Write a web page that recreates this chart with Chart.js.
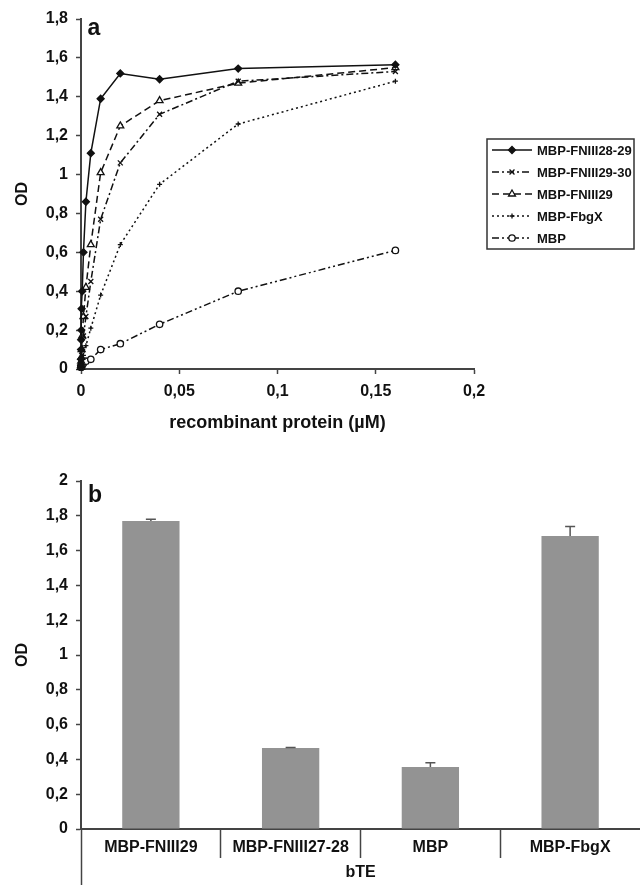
<!DOCTYPE html>
<html>
<head>
<meta charset="utf-8">
<script src="https://cdn.jsdelivr.net/npm/chart.js@4.4.1/dist/chart.umd.min.js"></script>
<style>
  body { margin: 0; background: #fff; }
  #wrap { position: relative; width: 640px; height: 885px; }
  canvas { position: absolute; left: 0; }
</style>
</head>
<body>
<div id="wrap">
  <canvas id="curve" width="640" height="440" style="top:0"></canvas>
  <canvas id="bars" width="640" height="445" style="top:440px"></canvas>
</div>
<script>
// panel a: two-fold dilution series (µM) and OD readings
const conc = [0.0000098, 0.0000195, 0.000039, 0.000078, 0.000156, 0.0003125, 0.000625, 0.00125, 0.0025, 0.005, 0.01, 0.02, 0.04, 0.08, 0.16];
const odFn2829 = [0.02, 0.05, 0.10, 0.15, 0.20, 0.31, 0.40, 0.60, 0.86, 1.11, 1.39, 1.52, 1.49, 1.545, 1.565];
const odFn2930 = [0.01, 0.01, 0.02, 0.03, 0.04, 0.07, 0.10, 0.17, 0.27, 0.45, 0.77, 1.06, 1.31, 1.48, 1.53];
const odFn29   = [0.01, 0.01, 0.02, 0.04, 0.06, 0.10, 0.17, 0.27, 0.42, 0.64, 1.01, 1.25, 1.38, 1.47, 1.55];
const odFbgX   = [0.01, 0.01, 0.01, 0.02, 0.02, 0.03, 0.05, 0.07, 0.12, 0.21, 0.38, 0.64, 0.95, 1.26, 1.48];
const odMbp    = [0.01, 0.01, 0.01, 0.01, 0.01, 0.02, 0.02, 0.03, 0.04, 0.05, 0.10, 0.13, 0.23, 0.40, 0.61];
const xTicksA = ['0', '0,05', '0,1', '0,15', '0,2'];
const yTicksA = ['0', '0,2', '0,4', '0,6', '0,8', '1', '1,2', '1,4', '1,6', '1,8'];

// panel b
const groups = ['MBP-FNIII29', 'MBP-FNIII27-28', 'MBP', 'MBP-FbgX'];
const groupTitle = ['bTE'];
const odMeans = [1.77, 0.466, 0.356, 1.684];
const odErrors = [0.01, 0.003, 0.025, 0.055];
const yTicksB = ['0', '0,2', '0,4', '0,6', '0,8', '1', '1,2', '1,4', '1,6', '1,8', '2'];

const FONT = "'Liberation Sans', Arial, sans-serif";
const ink = '#111';
const axisGrey = '#444';
const tickFont = { family: FONT, size: 16, weight: 'bold' };

const points = arr => conc.map((c, i) => ({ x: c, y: arr[i] }));
// no divider at the far right end of the category axis
const dividerColor = c => (c.type === 'tick' ? axisGrey : 'rgba(0,0,0,0)');

const panelLabel = {
  id: 'panelLabel',
  afterDraw(chart, args, opts) {
    const ctx = chart.ctx;
    ctx.save();
    ctx.fillStyle = ink;
    ctx.font = 'bold 23px ' + FONT;
    ctx.textAlign = 'center';
    ctx.textBaseline = 'alphabetic';
    ctx.fillText(opts.text, opts.x, opts.y);
    ctx.restore();
  }
};

// excel style legend: line sample with the marker in the middle
const curveLegend = {
  id: 'curveLegend',
  afterDraw(chart, args, opts) {
    const ctx = chart.ctx;
    ctx.save();
    ctx.strokeStyle = '#333';
    ctx.lineWidth = 1.5;
    ctx.strokeRect(opts.x, opts.y, opts.w, opts.h);
    chart.data.datasets.forEach((ds, i) => {
      const y = opts.y + 11 + i * opts.row;
      ctx.strokeStyle = ink;
      ctx.lineWidth = ds.borderWidth;
      ctx.setLineDash(ds.borderDash || []);
      ctx.beginPath();
      ctx.moveTo(opts.x + 5, y);
      ctx.lineTo(opts.x + 45, y);
      ctx.stroke();
      ctx.setLineDash([]);
      ctx.fillStyle = ds.pointBackgroundColor;
      ctx.lineWidth = ds.pointBorderWidth;
      Chart.helpers.drawPoint(ctx, {
        pointStyle: ds.pointStyle, radius: ds.pointRadius,
        borderWidth: ds.pointBorderWidth, rotation: 0
      }, opts.x + 25, y);
      ctx.fillStyle = ink;
      ctx.font = 'bold 13px ' + FONT;
      ctx.textAlign = 'left';
      ctx.textBaseline = 'middle';
      ctx.fillText(ds.label, opts.x + 50, y + 1);
    });
    ctx.restore();
  }
};

const errorBars = {
  id: 'errorBars',
  afterDatasetsDraw(chart, args, opts) {
    const ctx = chart.ctx;
    const yScale = chart.scales.y;
    const values = chart.data.datasets[0].data;
    ctx.save();
    ctx.strokeStyle = '#555';
    ctx.lineWidth = 1.5;
    chart.getDatasetMeta(0).data.forEach((bar, i) => {
      const yTop = yScale.getPixelForValue(values[i] + opts.errors[i]);
      ctx.beginPath();
      ctx.moveTo(bar.x, bar.y);
      ctx.lineTo(bar.x, yTop);
      ctx.moveTo(bar.x - 5, yTop);
      ctx.lineTo(bar.x + 5, yTop);
      ctx.stroke();
    });
    ctx.restore();
  }
};

function series(label, arr, dash, style, radius, fill) {
  return {
    label: label,
    data: points(arr),
    borderColor: ink,
    borderWidth: 1.5,
    borderDash: dash,
    pointStyle: style,
    pointRadius: radius,
    pointBorderColor: ink,
    pointBackgroundColor: fill,
    pointBorderWidth: 1.3,
    tension: 0,
    fill: false,
    clip: false
  };
}

new Chart(document.getElementById('curve'), {
  type: 'line',
  data: {
    datasets: [
      series('MBP-FNIII28-29', odFn2829, [], 'rectRot', 3.5, ink),
      series('MBP-FNIII29-30', odFn2930, [7, 3, 2, 3], 'crossRot', 3.5, ink),
      series('MBP-FNIII29', odFn29, [7, 4], 'triangle', 4, '#fff'),
      series('MBP-FbgX', odFbgX, [2, 3], 'cross', 2.5, ink),
      series('MBP', odMbp, [7, 3, 2, 3, 2, 3], 'circle', 3.2, '#fff')
    ]
  },
  options: {
    responsive: false,
    animation: false,
    layout: { padding: { left: 0, right: 166, top: 19, bottom: 4 } },
    plugins: {
      legend: { display: false },
      tooltip: { enabled: false },
      panelLabel: { text: 'a', x: 94, y: 35 },
      curveLegend: { x: 487, y: 139, w: 147, h: 110, row: 22 }
    },
    scales: {
      x: {
        type: 'linear', min: 0, max: 0.2,
        ticks: { stepSize: 0.05, padding: 8, color: ink, font: tickFont, maxRotation: 0,
                 callback: (v, i) => xTicksA[i] },
        grid: { drawOnChartArea: false, tickLength: 5, tickColor: axisGrey, tickWidth: 1.5 },
        border: { color: axisGrey, width: 2 },
        title: { display: true, text: 'recombinant protein (µM)', color: ink,
                 font: { family: FONT, size: 18, weight: 'bold' }, padding: { top: 0, bottom: 2 } },
        afterFit: s => { s.height = 67; }
      },
      y: {
        min: 0, max: 1.8,
        ticks: { stepSize: 0.2, padding: 8, color: ink, font: tickFont,
                 callback: (v, i) => yTicksA[i] },
        grid: { drawOnChartArea: false, tickLength: 5, tickColor: axisGrey, tickWidth: 1.5 },
        border: { color: axisGrey, width: 2 },
        title: { display: true, text: 'OD', color: ink, font: tickFont, padding: { top: 13 } },
        afterFit: s => { s.width = 81; }
      }
    }
  },
  plugins: [panelLabel, curveLegend]
});

new Chart(document.getElementById('bars'), {
  type: 'bar',
  data: {
    labels: groups,
    datasets: [{
      data: odMeans,
      backgroundColor: '#939393',
      borderWidth: 0,
      barPercentage: 0.41,
      categoryPercentage: 1
    }]
  },
  options: {
    responsive: false,
    animation: false,
    layout: { padding: { left: 0, right: 0, top: 41, bottom: 0 } },
    plugins: {
      legend: { display: false },
      tooltip: { enabled: false },
      panelLabel: { text: 'b', x: 95, y: 62 },
      errorBars: { errors: odErrors }
    },
    scales: {
      x: {
        type: 'category', offset: true,
        ticks: { padding: -20, color: ink, font: tickFont, maxRotation: 0, autoSkip: false },
        grid: { offset: true, drawOnChartArea: false, tickLength: 29, tickColor: dividerColor, tickWidth: 1.5 },
        border: { color: axisGrey, width: 2 },
        afterFit: s => { s.height = 29; }
      },
      x2: {
        type: 'category', position: 'bottom', labels: groupTitle, offset: true,
        ticks: { padding: -22, color: ink, font: tickFont, maxRotation: 0 },
        grid: { offset: true, drawOnChartArea: false, tickLength: 27, tickColor: dividerColor, tickWidth: 1.5 },
        border: { display: false },
        afterFit: s => { s.height = 27; }
      },
      y: {
        min: 0, max: 2,
        ticks: { stepSize: 0.2, padding: 8, color: ink, font: tickFont,
                 callback: (v, i) => yTicksB[i] },
        grid: { drawOnChartArea: false, tickLength: 5, tickColor: axisGrey, tickWidth: 1.5 },
        border: { color: axisGrey, width: 2 },
        title: { display: true, text: 'OD', color: ink, font: tickFont, padding: { top: 13 } },
        afterFit: s => { s.width = 81; }
      }
    }
  },
  plugins: [panelLabel, errorBars]
});
</script>
</body>
</html>
